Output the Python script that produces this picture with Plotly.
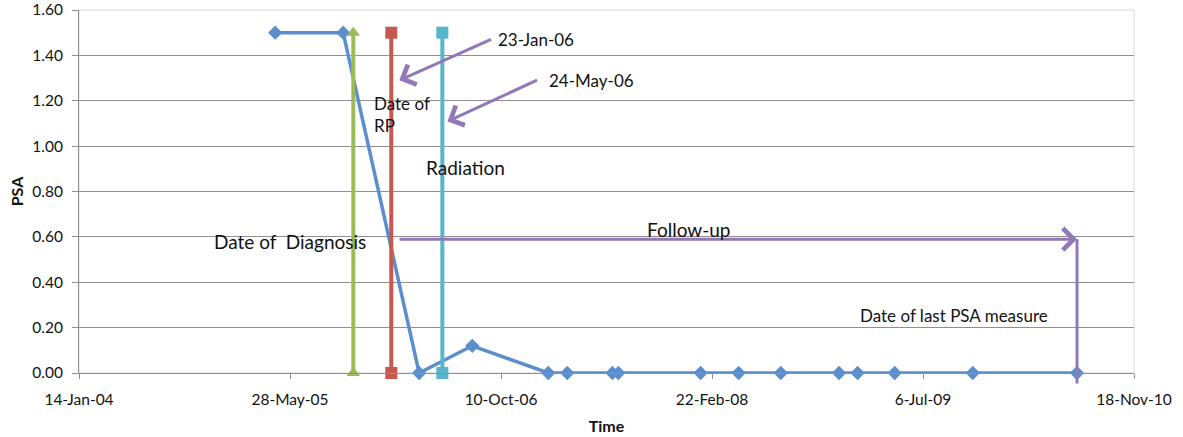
import plotly.graph_objects as go

# ---- data ----
psa_dates = ["2005-04-23", "2005-10-01", "2006-03-30", "2006-08-03", "2007-01-30",
             "2007-03-16", "2007-07-01", "2007-07-15", "2008-01-26", "2008-04-25",
             "2008-08-03", "2008-12-19", "2009-02-01", "2009-04-30", "2009-11-01",
             "2010-07-06"]
psa_values = [1.50, 1.50, 0.00, 0.12, 0.00, 0.00, 0.00, 0.00, 0.00, 0.00,
              0.00, 0.00, 0.00, 0.00, 0.00, 0.00]

diagnosis_date = "2005-10-25"
rp_date = "2006-01-23"
radiation_date = "2006-05-24"
event_levels = [0.0, 1.5]

followup_start = "2006-02-08"
followup_end = "2010-07-06"
followup_level = 0.59

x_tickvals = ["2004-01-14", "2005-05-28", "2006-10-10", "2008-02-22", "2009-07-06", "2010-11-18"]
x_ticktext = ["14-Jan-04", "28-May-05", "10-Oct-06", "22-Feb-08", "6-Jul-09", "18-Nov-10"]
y_tickvals = [0.0, 0.2, 0.4, 0.6, 0.8, 1.0, 1.2, 1.4, 1.6]

# ---- styles ----
FONT = "Lato, 'Open Sans', sans-serif"
BLUE = "#5b8fcb"
GREEN = "#9bbb59"
RED = "#c8574f"
CYAN = "#56b6cc"
PURPLE = "#9179b8"
GRID = "#8f8f8f"
TXT = "#111111"

fig = go.Figure()

fig.add_trace(go.Scatter(
    x=psa_dates, y=psa_values, mode="lines+markers",
    line=dict(color=BLUE, width=3.5),
    marker=dict(symbol="diamond", size=11, color=BLUE),
    cliponaxis=False, showlegend=False))

fig.add_trace(go.Scatter(
    x=[diagnosis_date, diagnosis_date], y=event_levels, mode="lines+markers",
    line=dict(color=GREEN, width=4),
    marker=dict(symbol="triangle-up", size=12, color=GREEN),
    cliponaxis=False, showlegend=False))

fig.add_trace(go.Scatter(
    x=[rp_date, rp_date], y=event_levels, mode="lines+markers",
    line=dict(color=RED, width=4),
    marker=dict(symbol="square", size=12, color=RED),
    cliponaxis=False, showlegend=False))

fig.add_trace(go.Scatter(
    x=[radiation_date, radiation_date], y=event_levels, mode="lines+markers",
    line=dict(color=CYAN, width=4),
    marker=dict(symbol="square", size=12, color=CYAN),
    cliponaxis=False, showlegend=False))

ann = []
# follow-up horizontal arrow
ann.append(dict(x=followup_end, y=followup_level, ax=followup_start, ay=followup_level,
                xref="x", yref="y", axref="x", ayref="y", text="", showarrow=True,
                arrowhead=4, arrowsize=1.4, arrowwidth=3, arrowcolor=PURPLE))
# vertical line at last PSA measure
ann.append(dict(x=followup_end, y=followup_level, ax=followup_end, ay=-0.053,
                xref="x", yref="y", axref="x", ayref="y", text="", showarrow=True,
                arrowhead=0, arrowwidth=3, arrowcolor=PURPLE))
# date pointer arrows
ann.append(dict(x="2006-02-11", y=1.29, ax="2006-09-20", ay=1.474,
                xref="x", yref="y", axref="x", ayref="y", text="", showarrow=True,
                arrowhead=4, arrowsize=1.4, arrowwidth=3, arrowcolor=PURPLE))
ann.append(dict(x="2006-06-05", y=1.109, ax="2007-01-07", ay=1.294,
                xref="x", yref="y", axref="x", ayref="y", text="", showarrow=True,
                arrowhead=4, arrowsize=1.4, arrowwidth=3, arrowcolor=PURPLE))

def label(x, y, text, size):
    return dict(x=x, y=y, xref="x", yref="y", text=text, showarrow=False,
                xanchor="left", yanchor="middle", align="left",
                font=dict(family=FONT, size=size, color=TXT))

ann.append(label("2006-09-29", 1.47, "23-Jan-06", 17))
ann.append(label("2007-01-28", 1.29, "24-May-06", 17))
ann.append(label("2005-12-09", 1.138, "Date of<br>RP", 17))
ann.append(label("2006-04-11", 0.906, "Radiation", 19))
ann.append(label("2004-11-24", 0.58, "Date of\u00a0 Diagnosis", 19))
ann.append(label("2007-09-17", 0.633, "Follow-up", 19))
ann.append(label("2009-02-01", 0.254, "Date of last PSA measure", 17))

fig.update_layout(
    width=1183, height=437,
    margin=dict(l=79, r=49, t=10, b=64),
    paper_bgcolor="white", plot_bgcolor="white",
    font=dict(family=FONT, size=15, color=TXT),
    annotations=ann,
    shapes=[dict(type="rect", xref="paper", yref="paper", x0=0, x1=1, y0=0, y1=1,
                 line=dict(color="#d9d9d9", width=1), layer="below")],
)

fig.update_xaxes(
    type="date", range=["2004-01-14", "2010-11-18"],
    tickvals=x_tickvals, ticktext=x_ticktext,
    showgrid=False, zeroline=False, automargin=False,
    showline=True, linecolor=GRID, linewidth=1,
    ticks="outside", ticklen=5, tickcolor=GRID,
    ticklabelstandoff=7,
    tickfont=dict(family=FONT, size=15.5, color=TXT),
    title=dict(text="<b>Time</b>", font=dict(family=FONT, size=16, color=TXT), standoff=14),
)

fig.update_yaxes(
    range=[0, 1.6], tickvals=y_tickvals, tickformat=".2f",
    showgrid=True, gridcolor=GRID, gridwidth=1, zeroline=False, automargin=False,
    showline=True, linecolor=GRID, linewidth=1,
    ticks="outside", ticklen=6, tickcolor=GRID,
    ticklabelstandoff=6,
    tickfont=dict(family=FONT, size=15.5, color=TXT),
    title=dict(text="<b>PSA</b>", font=dict(family=FONT, size=16, color=TXT), standoff=4),
)

fig.write_html("out.html")
